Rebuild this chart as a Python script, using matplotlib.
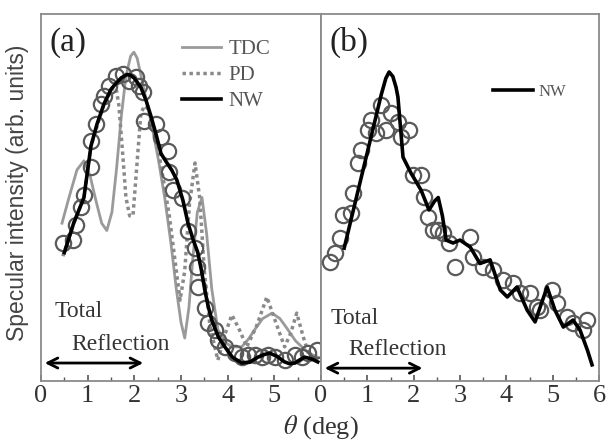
import matplotlib
matplotlib.use("Agg")
import matplotlib.pyplot as plt
from matplotlib.ticker import MultipleLocator

plt.rcParams['font.family'] = ['Liberation Serif', 'DejaVu Serif']
plt.rcParams['mathtext.fontset'] = 'stix'

# ---------------- panel (a) data ----------------
a_data_x = [0.47, 0.69, 0.75, 0.86, 0.92, 1.07, 1.07, 1.18, 1.28, 1.35, 1.46, 1.61, 1.76, 1.88,
            2.03, 2.10, 2.18, 2.21, 2.46, 2.57, 2.72, 2.74, 2.83, 3.02, 3.15, 3.30, 3.34, 3.36,
            3.51, 3.58, 3.73, 3.79, 3.94, 4.15, 4.30, 4.43, 4.58, 4.73, 4.86, 5.01, 5.22, 5.44,
            5.59, 5.72, 5.91]
a_data_y = [0.376, 0.384, 0.425, 0.474, 0.507, 0.583, 0.654, 0.700, 0.755, 0.777, 0.804, 0.831,
            0.837, 0.817, 0.828, 0.804, 0.787, 0.708, 0.700, 0.665, 0.627, 0.569, 0.520, 0.500,
            0.410, 0.362, 0.310, 0.256, 0.200, 0.158, 0.139, 0.112, 0.093, 0.076, 0.065, 0.071,
            0.071, 0.065, 0.071, 0.065, 0.057, 0.071, 0.065, 0.076, 0.084]

a_nw_x = [0.50, 0.70, 0.92, 1.07, 1.20, 1.35, 1.50, 1.60, 1.72, 1.84, 1.92, 2.00, 2.14, 2.25,
          2.36, 2.47, 2.57, 2.70, 2.80, 2.91, 3.04, 3.15, 3.26, 3.36, 3.44, 3.51, 3.58, 3.66,
          3.80, 3.94, 4.10, 4.30, 4.48, 4.65, 4.78, 4.90, 5.06, 5.22, 5.33, 5.44, 5.55, 5.65,
          5.80, 5.93]
a_nw_y = [0.35, 0.43, 0.50, 0.64, 0.70, 0.755, 0.795, 0.81, 0.826, 0.835, 0.833, 0.825, 0.80,
          0.765, 0.72, 0.67, 0.62, 0.594, 0.575, 0.548, 0.493, 0.43, 0.385, 0.35, 0.30, 0.248,
          0.205, 0.166, 0.12, 0.093, 0.065, 0.049, 0.052, 0.065, 0.072, 0.076, 0.067, 0.052,
          0.047, 0.049, 0.058, 0.065, 0.060, 0.052]

a_tdc_x = [0.45, 0.60, 0.77, 0.92, 1.05, 1.18, 1.30, 1.41, 1.52, 1.62, 1.72, 1.82, 1.92, 1.99,
           2.06, 2.18, 2.30, 2.40, 2.52, 2.65, 2.78, 2.90, 3.00, 3.08, 3.17, 3.25, 3.35, 3.45,
           3.55, 3.66, 3.79, 3.95, 4.09, 4.30, 4.45, 4.58, 4.75, 4.95, 5.12, 5.29, 5.45, 5.59,
           5.75, 5.93]
a_tdc_y = [0.43, 0.50, 0.575, 0.60, 0.56, 0.49, 0.43, 0.41, 0.46, 0.58, 0.72, 0.83, 0.885,
           0.896, 0.88, 0.81, 0.74, 0.68, 0.60, 0.50, 0.38, 0.25, 0.16, 0.117, 0.20, 0.33, 0.46,
           0.50, 0.40, 0.25, 0.14, 0.105, 0.093, 0.093, 0.115, 0.14, 0.170, 0.185, 0.170, 0.14,
           0.110, 0.093, 0.075, 0.065]

a_pd_x = [0.47, 0.70, 0.92, 1.07, 1.35, 1.55, 1.62, 1.67, 1.75, 1.82, 1.90, 1.97, 2.05, 2.14,
          2.22, 2.30, 2.40, 2.50, 2.62, 2.75, 2.87, 2.98, 3.08, 3.18, 3.30, 3.40, 3.50, 3.62,
          3.79, 3.95, 4.09, 4.25, 4.41, 4.62, 4.84, 5.03, 5.22, 5.35, 5.48, 5.62, 5.76, 5.95]
a_pd_y = [0.34, 0.43, 0.50, 0.64, 0.755, 0.80, 0.79, 0.75, 0.62, 0.50, 0.45, 0.45, 0.58, 0.73,
          0.75, 0.74, 0.69, 0.64, 0.55, 0.45, 0.33, 0.22, 0.30, 0.48, 0.594, 0.50, 0.30, 0.15,
          0.057, 0.13, 0.18, 0.14, 0.093, 0.15, 0.229, 0.16, 0.093, 0.13, 0.185, 0.12, 0.065,
          0.06]

# ---------------- panel (b) data ----------------
b_data_x = [0.19, 0.30, 0.41, 0.48, 0.65, 0.69, 0.80, 0.86, 1.02, 1.08, 1.19, 1.30, 1.40, 1.51,
            1.66, 1.73, 1.90, 1.99, 2.16, 2.22, 2.31, 2.42, 2.53, 2.63, 2.76, 2.89, 3.22, 3.28,
            3.50, 3.71, 3.93, 4.15, 4.30, 4.51, 4.67, 4.73, 4.99, 5.10, 5.31, 5.44, 5.66, 5.75]
b_data_y = [0.324, 0.349, 0.390, 0.452, 0.458, 0.512, 0.594, 0.629, 0.684, 0.711, 0.676, 0.752,
            0.684, 0.730, 0.706, 0.665, 0.684, 0.561, 0.561, 0.501, 0.447, 0.411, 0.411, 0.403,
            0.376, 0.311, 0.392, 0.338, 0.311, 0.302, 0.275, 0.267, 0.240, 0.240, 0.202, 0.193,
            0.248, 0.213, 0.174, 0.158, 0.139, 0.166]

b_nw_x = [0.50, 1.30, 1.40, 1.47, 1.55, 1.62, 1.66, 1.77, 1.94, 2.16, 2.33, 2.45, 2.53, 2.62,
          2.70, 2.85, 3.00, 3.22, 3.43, 3.65, 3.87, 4.02, 4.23, 4.45, 4.62, 4.88, 5.05, 5.23,
          5.44, 5.59, 5.75, 5.85]
b_nw_y = [0.362, 0.78, 0.825, 0.842, 0.83, 0.80, 0.774, 0.61, 0.567, 0.52, 0.466, 0.49, 0.50,
          0.45, 0.384, 0.376, 0.384, 0.365, 0.32, 0.33, 0.248, 0.229, 0.256, 0.193, 0.161, 0.256,
          0.193, 0.147, 0.166, 0.139, 0.084, 0.044]

xticks = [0, 1, 2, 3, 4, 5, 6]
a_xticklabels = ['0', '1', '2', '3', '4', '5', '']
b_xticklabels = ['0', '1', '2', '3', '4', '5', '6']

fig = plt.figure(figsize=(6.09, 4.41), dpi=100)
W, H = 609, 441
axA = fig.add_axes([41 / W, 1 - 381 / H, (321 - 41) / W, (381 - 14) / H])
axB = fig.add_axes([321 / W, 1 - 381 / H, (599 - 321) / W, (381 - 14) / H])

frame_col = '#8a8a8a'
circ_col = '#5a5a5a'

for ax, labels in ((axA, a_xticklabels), (axB, b_xticklabels)):
    ax.set_xlim(0, 6)
    ax.set_ylim(0, 1)
    ax.set_yticks([])
    ax.set_xticks(xticks)
    ax.set_xticklabels(labels, fontsize=19, color='#333333')
    ax.xaxis.set_minor_locator(MultipleLocator(0.5))
    ax.tick_params(axis='x', which='major', direction='in', length=4, width=1.2,
                   color='#555555', pad=3)
    ax.tick_params(axis='x', which='minor', direction='in', length=3, width=1.0,
                   color='#555555')
    for s in ax.spines.values():
        s.set_color(frame_col)
        s.set_linewidth(1.3)

# panel (a)
axA.plot(a_tdc_x, a_tdc_y, color='#9a9a9a', lw=2.0, label='TDC', zorder=2)
axA.plot(a_pd_x, a_pd_y, color='#8a8a8a', lw=2.5, ls=(0, (1, 1)), label='PD', zorder=2)
axA.plot(a_data_x, a_data_y, ls='none', marker='o', ms=11, mfc='none', mec=circ_col,
         mew=1.6, zorder=3)
axA.plot(a_nw_x, a_nw_y, color='black', lw=2.6, label='NW', zorder=4)
legA = axA.legend(loc='upper left', bbox_to_anchor=(0.505, 0.93), frameon=False,
                  fontsize=15, handlelength=1.85, handletextpad=0.35, labelspacing=0.3,
                  borderaxespad=0, borderpad=0)
for t in legA.get_texts():
    t.set_color('#555555')
axA.text(0.03, 0.965, '(a)', transform=axA.transAxes, fontsize=24, va='top', ha='left',
         color='#222222')
axA.text(0.3, 0.19, 'Total', fontsize=17, color='#333333', va='center', ha='left')
axA.text(0.65, 0.10, 'Reflection', fontsize=17, color='#333333', va='center', ha='left')
axA.annotate('', xy=(0.02, 0.049), xytext=(2.25, 0.049),
             arrowprops=dict(arrowstyle='<->', color='black', lw=2, mutation_scale=18))

# panel (b)
axB.plot(b_data_x, b_data_y, ls='none', marker='o', ms=11, mfc='none', mec=circ_col,
         mew=1.6, zorder=3)
axB.plot(b_nw_x, b_nw_y, color='black', lw=2.6, label='NW', zorder=4)
legB = axB.legend(loc='upper left', bbox_to_anchor=(0.62, 0.81), frameon=False,
                  fontsize=12, handlelength=2.4, handletextpad=0.3, borderaxespad=0,
                  borderpad=0)
for t in legB.get_texts():
    t.set_color('#555555')
axB.text(0.03, 0.965, '(b)', transform=axB.transAxes, fontsize=24, va='top', ha='left',
         color='#222222')
axB.text(0.2, 0.17, 'Total', fontsize=17, color='#333333', va='center', ha='left')
axB.text(0.6, 0.085, 'Reflection', fontsize=17, color='#333333', va='center', ha='left')
axB.annotate('', xy=(0.02, 0.035), xytext=(2.25, 0.035),
             arrowprops=dict(arrowstyle='<->', color='black', lw=2, mutation_scale=18))

fig.text(18 / W, 1 - 193 / H, 'Specular intensity (arb. units)', rotation=90,
         fontsize=16.5, family=['Liberation Sans', 'DejaVu Sans'], color='#444444',
         ha='center', va='center')
fig.text(321 / W, 1 - 434 / H, r'$\theta$ (deg)', fontsize=19, color='#333333',
         ha='center', va='baseline')

fig.savefig('out.png', dpi=100)
